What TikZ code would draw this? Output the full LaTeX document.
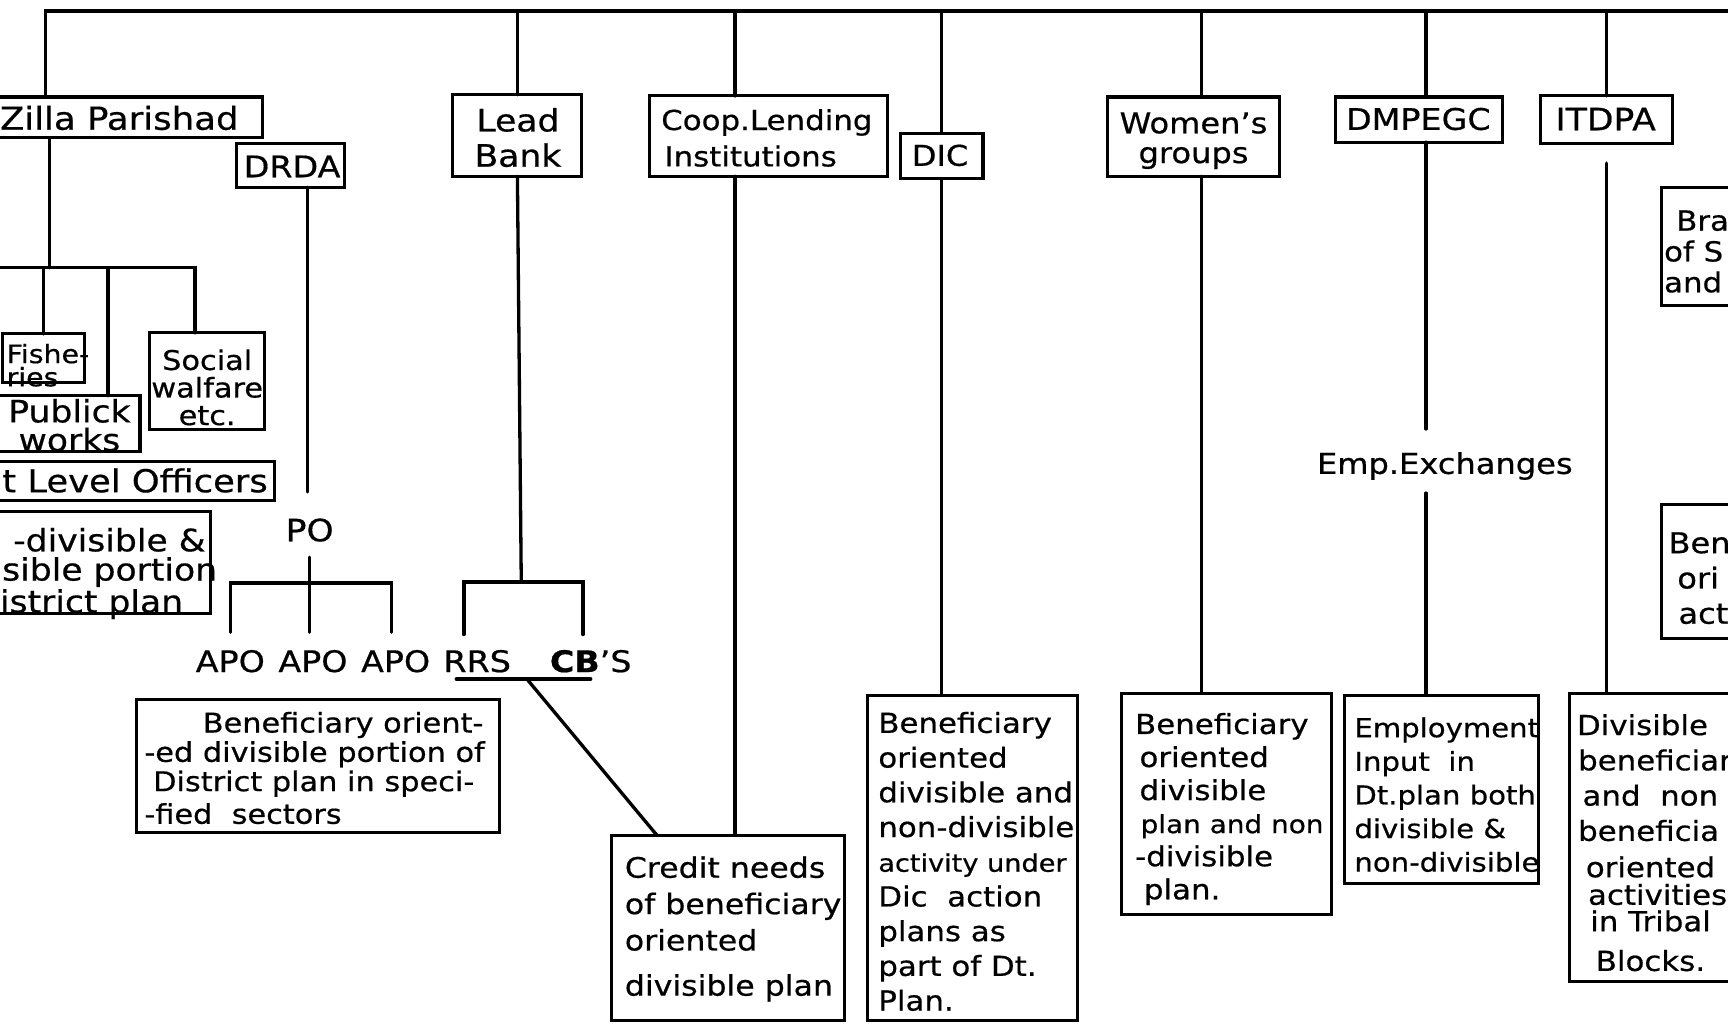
\documentclass[tikz,border=0pt]{standalone}
\usepackage{fontspec}
\setmainfont[FakeStretch=1.12,FakeBold=0.6]{DejaVu Sans}
\usetikzlibrary{fit,calc}
\newcommand\fsz[2]{\fontsize{#1pt}{#2pt}\selectfont}
\begin{document}
\begin{tikzpicture}[x=0.5pt,y=-0.5pt,
  ln/.style={line width=1.5pt, line cap=round},
  bx/.style={draw, line width=1.4pt, inner sep=0pt, outer sep=0pt},
  tx/.style={inner sep=0pt, outer sep=0pt, anchor=north west, align=left},
  lb/.style={inner sep=0pt, outer sep=0pt}]
\path[use as bounding box, fill=white] (0,0) rectangle (1568,931);
\clip (0,0) rectangle (1568,931);

% ---------- top row boxes ----------
\node[bx, fit={(-10,88) (238,125)}] (zp) {};
\node[lb, anchor=west, font=\fsz{14.4}{16}] (zpt) at (0,107) {Zilla Parishad};
\node[bx, fit={(215,130) (313,170)}] (drda) {};
\node[lb, font=\fsz{13.5}{16}] (drdat) at (265,151) {DRDA};
\node[bx, fit={(411,86) (528,160)}] (lead) {};
\node[lb, anchor=north, align=center, font=\fsz{14}{16}] (leadt) at (470,98) {Lead\\Bank};
\node[bx, fit={(589,87) (805,160)}] (coop) {};
\node[tx, font=\fsz{12.5}{16.5}] (coopt) at (600,99) {Coop.Lending\\\hspace*{1.5pt}Institutions};
\node[bx, fit={(817,121) (892,162)}] (dic) {};
\node[lb, font=\fsz{13}{16}] (dict) at (853,141) {DIC};
\node[bx, fit={(1005,88) (1161,160)}] (wom) {};
\node[lb, anchor=north, align=center, font=\fsz{13}{13.5}] (womt) at (1083,102) {Women’s\\groups};
\node[bx, fit={(1212,88) (1363,129)}] (dmp) {};
\node[lb, font=\fsz{13.5}{16}] (dmpt) at (1287,108) {DMPEGC};
\node[bx, fit={(1398,87) (1518,130)}] (itd) {};
\node[lb, font=\fsz{14}{16}] (itdt) at (1457,108) {ITDPA};

% ---------- right edge boxes ----------
\node[bx, fit={(1508,170) (1600,277)}] (bra) {};
\node[tx, font=\fsz{12.5}{14}] (brat) at (1510,191) {\hspace*{5.5pt}Bra\\of S\\and};
\node[bx, fit={(1508,458) (1600,579)}] (ben) {};
\node[tx, font=\fsz{13}{16}] (bent) at (1514,483) {Ben\\\hspace*{4pt}ori\\\hspace*{4.5pt}act};

% ---------- left group ----------
\node[bx, fit={(2,303) (77,347)}] (fish) {};
\node[tx, font=\fsz{11.5}{10.5}] (fisht) at (6,312) {Fishe-\\ries};
\node[bx, fit={(-5,359) (127,410)}] (pub) {};
\node[lb, anchor=north, align=center, font=\fsz{14}{13}] (pubt) at (63,362) {Publick\\works};
\node[bx, fit={(136,302) (240,390)}] (soc) {};
\node[lb, anchor=north, align=center, font=\fsz{12.3}{12.5}] (soct) at (188,317) {Social\\walfare\\etc.};
\node[bx, fit={(-10,419) (249,454)}] (lvl) {};
\node[lb, anchor=east, font=\fsz{14.3}{16}] (lvlt) at (243,436) {t Level Officers};
\node[bx, fit={(-10,464) (191,557)}] (ndv) {};
\node[tx, font=\fsz{14}{13.25}] (ndvt) at (0,479) {\hspace*{6pt}-divisible \&\\\hspace*{1pt}sible portion\\istrict plan};

% ---------- middle labels ----------
\node[lb, font=\fsz{14}{16}] (po) at (281,481) {PO};
\node[lb, font=\fsz{13.5}{16}] (apo1) at (209,600) {APO};
\node[lb, font=\fsz{13.5}{16}] (apo2) at (284,600) {APO};
\node[lb, font=\fsz{13.5}{16}] (apo3) at (359,600) {APO};
\node[lb, font=\fsz{13.5}{16}] (rrs) at (433,600) {RRS};
\node[lb, font=\fsz{13.5}{16}] (cbs) at (536,600) {\textbf{CB}’S};
\node[lb, anchor=base, font=\fsz{13}{15}] (exch) at (1311,430) {Emp.Exchanges};

% ---------- bottom boxes ----------
\node[bx, fit={(124,635) (453,755)}] (benf) {};
\node[tx, font=\fsz{12.3}{13.3}] (benft) at (131,646) {\hspace*{26.5pt}Beneficiary orient-\\-ed divisible portion of\\\hspace*{4pt}District plan in speci-\\[1.5pt]-fied\ \ sectors};
\node[bx, fit={(555,758) (766,926)}] (cred) {};
\node[tx, font=\fsz{12.8}{16.5}] (credt) at (567,777) {Credit needs\\of beneficiary\\oriented\\[4pt]divisible plan};
\node[bx, fit={(787,631) (978,926)}] (dicd) {};
\node[tx, font=\fsz{12.5}{15.75}] (dicdt) at (797,646) {Beneficiary\\oriented\\divisible and\\non-divisible\\{\fsz{11}{15.75}activity under}\\Dic\ \ action\\plans as\\part of Dt.\\Plan.};
\node[bx, fit={(1018,629) (1208,830)}] (wd) {};
\node[tx, font=\fsz{12.5}{15}] (wdt) at (1030,647) {Beneficiary\\\hspace*{2pt}oriented\\\hspace*{2pt}divisible\\\hspace*{2.5pt}{\fsz{11.3}{15}plan and non}\\-divisible\\\hspace*{4pt}plan.};
\node[bx, fit={(1220,631) (1396,802)}] (ed) {};
\node[tx, font=\fsz{11.8}{15.25}] (edt) at (1229,651) {Employment\\Input\ \ in\\Dt.plan both\\divisible \&\\non-divisible};
\node[bx, fit={(1424,629) (1600,891)}] (td) {};
\node[tx, font=\fsz{12.5}{16}] (tdt) at (1428,648) {\hspace*{1.5pt}Divisible\\\hspace*{2pt}beneficiar\\\hspace*{4pt}and\ \ non\\\hspace*{2pt}beneficia\\[0.5pt]\hspace*{5.5pt}oriented\\[-3.5pt]\hspace*{6.5pt}activities\\[-4pt]\hspace*{7.5pt}in Tribal\\[2pt]\hspace*{10pt}Blocks.};

% ---------- connectors ----------
\coordinate (tl) at (41,10);
\coordinate (tr) at (1600,10);
\coordinate (xCoop) at (667,10);
\coordinate (xWom) at (1090,10);
\coordinate (xDmp) at (1294,10);
\draw[ln] (zp.north -| tl) -- (tl) -- (tr);
\draw[ln] (lead.north) -- (lead.north |- tl);
\draw[ln] (xCoop) -- (xCoop |- coop.north);
\draw[ln] (dic.north) -- (dic.north |- tl);
\draw[ln] (xWom) -- (xWom |- wom.north);
\draw[ln] (xDmp) -- (xDmp |- dmp.north);
\draw[ln] (itd.north) -- (itd.north |- tl);

% Zilla Parishad subtree
\coordinate (zj) at (45,243);
\coordinate (zl) at (-5,243);
\coordinate (zr) at (177,243);
\coordinate (xPub) at (98,243);
\draw[ln] (zp.south -| zj) -- (zj);
\draw[ln] (zl) -- (zr) -- (zr |- soc.north);
\draw[ln] (fish.north) -- (fish.north |- zj);
\draw[ln] (xPub) -- (xPub |- pub.north);

% DRDA -> PO -> APOs
\coordinate (xDr) at (279,10);
\draw[ln, shorten >=12pt] (drda.south -| xDr) -- (xDr |- po.north);
\coordinate (pl) at (209,529);
\coordinate (pr) at (355,529);
\draw[ln, shorten <=7pt, shorten >=8pt] (po.south) -- (po.south |- apo2.north);
\draw[ln, shorten <=8pt, shorten >=8pt] (pl |- apo1.north) -- (pl) -- (pr) -- (pr |- apo3.north);

% Lead Bank -> RRS / CB'S
\coordinate (lj) at (473,528);
\coordinate (ll) at (421,528);
\coordinate (lr) at (529,528);
\draw[ln] (lead.south) -- (lj);
\draw[ln, shorten <=7pt, shorten >=7pt] (ll |- rrs.north) -- (ll) -- (lr) -- (lr |- cbs.north);
\coordinate (ul) at (414,616);
\coordinate (ur) at (536,616);
\coordinate (dg) at (478,616);
\draw[ln] (ul) -- (ur);
\draw[ln] (dg) -- ($(cred.north west)!0.195!(cred.north east)$);

% Coop -> Credit
\draw[ln] (xCoop |- coop.south) -- (xCoop |- cred.north);
% DIC -> description
\draw[ln] (dic.south) -- (dic.south |- dicd.north);
% Women -> description
\draw[ln] (xWom |- wom.south) -- (xWom |- wd.north);
% DMPEGC -> Emp.Exchanges -> Employment
\draw[ln, shorten >=10.5pt] (xDmp |- dmp.south) -- (xDmp |- exch.north);
\draw[ln, shorten <=6pt] (xDmp |- exch.south) -- (xDmp |- ed.north);
% ITDPA -> Tribal
\draw[ln, shorten <=9pt] (itd.south) -- (itd.south |- td.north);
\end{tikzpicture}
\end{document}
